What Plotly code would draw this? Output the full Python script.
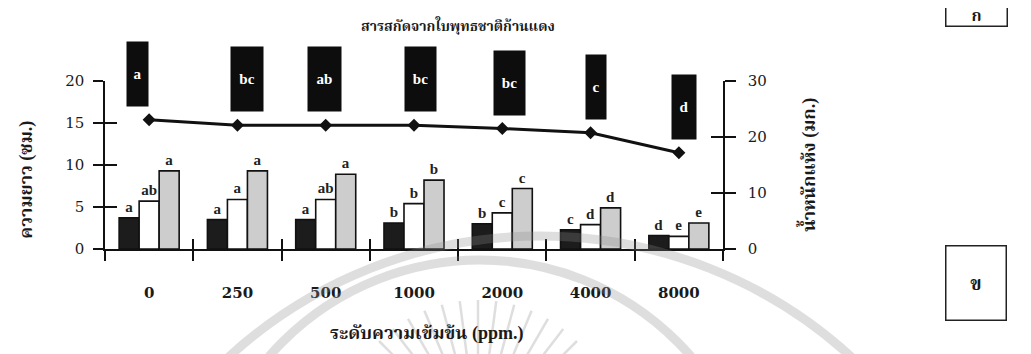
import math
import plotly.graph_objects as go

# ---------------- data ----------------
concentrations = ["0", "250", "500", "1000", "2000", "4000", "8000"]
len_black = [3.7, 3.5, 3.5, 3.1, 3.0, 2.3, 1.6]
len_white = [5.7, 5.9, 5.9, 5.4, 4.3, 2.9, 1.5]
len_gray = [9.3, 9.3, 8.9, 8.2, 7.2, 4.9, 3.1]
let_black = ["a", "a", "a", "b", "b", "c", "d"]
let_white = ["ab", "a", "ab", "b", "c", "d", "e"]
let_gray = ["a", "a", "a", "b", "c", "d", "e"]
dry_weight = [23.1, 22.1, 22.1, 22.1, 21.5, 20.75, 17.2]
dry_letters = ["a", "bc", "ab", "bc", "bc", "c", "d"]
left_ticks = [0, 5, 10, 15, 20]
right_ticks = [0, 10, 20, 30]

title_text = "สารสกัดจากใบพุทธชาติก้านแดง"
xtitle_text = "ระดับความเข้มข้น (ppm.)"
ytitle_left = "ความยาว (ซม.)"
ytitle_right = "น้ำหนักแห้ง (มก.)"

# ---------------- style ----------------
FONT = "Liberation Serif, Times New Roman, Noto Serif Thai, Noto Sans Thai, DejaVu Sans, serif"
NUMFONT = "DejaVu Serif, Liberation Serif, serif"
BOX_W = [19, 30, 31, 29, 29, 18, 22]
BOX_DX = [-12, 10, -1, 6, 7, 5, 5]
INK = "#1a1a1a"
# plot-area geometry (pixels) used only to place the faint background watermark
PX0, PW, PY0, PH = 105, 618, 249, 168

def px(x):
    return (x - PX0) / PW

def py(y):
    return (PY0 - y) / PH

fig = go.Figure()

def add_bar(vals, letters, color):
    fig.add_trace(go.Bar(
        x=concentrations, y=vals, text=[f"<b>{t}</b>" for t in letters],
        textposition="outside", cliponaxis=False,
        textfont=dict(family=FONT, size=15, color="#222"),
        marker=dict(color=color, line=dict(color="#111", width=1.6)),
        showlegend=False, hoverinfo="skip", yaxis="y", xaxis="x"))

add_bar(len_black, let_black, "#1c1c1c")
add_bar(len_white, let_white, "#ffffff")
add_bar(len_gray, let_gray, "#cdcdcd")

fig.add_trace(go.Scatter(
    x=concentrations, y=dry_weight, yaxis="y2", xaxis="x",
    mode="lines+markers", line=dict(color="#111", width=3),
    marker=dict(symbol="diamond", size=10, color="#111"),
    showlegend=False, hoverinfo="skip", cliponaxis=False))

# dummy traces for the crossing-tick overlay axes
fig.add_trace(go.Scatter(x=[-0.5, 6.5], y=[0, 0], xaxis="x2", yaxis="y3",
                         mode="none", showlegend=False, hoverinfo="skip"))
fig.add_trace(go.Scatter(x=[-0.5, 6.5], y=[0, 0], xaxis="x2", yaxis="y4",
                         mode="none", showlegend=False, hoverinfo="skip"))

ann = []
for i, (v, t) in enumerate(zip(dry_weight, dry_letters)):
    ann.append(dict(x=i, y=v, xref="x", yref="y2", text=f"<b>{t}</b>",
                    showarrow=False, bgcolor="#0d0d0d", width=BOX_W[i], height=62,
                    font=dict(family=FONT, size=15, color="white"),
                    xanchor="center", yanchor="middle", yshift=46, xshift=BOX_DX[i]))

# titles
ann.append(dict(text=f"<b>{title_text}</b>", x=0.571, y=1.333, xref="paper", yref="paper",
                showarrow=False, font=dict(family=FONT, size=14, color=INK),
                xanchor="center", yanchor="middle"))
ann.append(dict(text=f"<b>{xtitle_text}</b>", x=0.52, y=-0.5, xref="paper", yref="paper",
                showarrow=False, font=dict(family=FONT, size=18, color=INK),
                xanchor="center", yanchor="middle"))
ann.append(dict(text=f"<b>{ytitle_left}</b>", x=-0.127, y=0.41, xref="paper", yref="paper",
                showarrow=False, textangle=-90, font=dict(family=FONT, size=18, color=INK),
                xanchor="center", yanchor="middle"))
ann.append(dict(text=f"<b>{ytitle_right}</b>", x=1.137, y=0.5, xref="paper", yref="paper",
                showarrow=False, textangle=-90, font=dict(family=FONT, size=18, color=INK),
                xanchor="center", yanchor="middle"))
# panel labels
ann.append(dict(text="<b>ก</b>", x=px(977), y=py(27), xref="paper", yref="paper",
                showarrow=False, width=58, height=18, bordercolor="#222", borderwidth=1.5,
                bgcolor="white", font=dict(family=FONT, size=16, color=INK),
                xanchor="center", yanchor="bottom", valign="middle"))
ann.append(dict(text="<b>ข</b>", x=px(976), y=py(283), xref="paper", yref="paper",
                showarrow=False, width=57, height=71, bordercolor="#222", borderwidth=1.5,
                bgcolor="white", font=dict(family=FONT, size=19, color=INK),
                xanchor="center", yanchor="middle"))

# faint watermark (emblem arcs and rays) seen behind the scanned chart
WM = dict(color="#8c8c8c")
shapes = []
for cx, cy, r in [(540, 697, 461), (480, 539, 279)]:
    shapes.append(dict(type="circle", xref="paper", yref="paper",
                       x0=px(cx - r), x1=px(cx + r), y0=py(cy + r), y1=py(cy - r),
                       line=dict(color=WM["color"], width=9), opacity=0.28, layer="above"))
rcx, rcy = 478, 440
for k in range(13):
    a = math.radians(225 + k * 7.5)
    x0, y0 = rcx + 85 * math.cos(a), rcy + 85 * math.sin(a)
    x1, y1 = rcx + 140 * math.cos(a), rcy + 140 * math.sin(a)
    shapes.append(dict(type="line", xref="paper", yref="paper",
                       x0=px(x0), y0=py(y0), x1=px(x1), y1=py(y1),
                       line=dict(color=WM["color"], width=2.5), opacity=0.28, layer="below"))

tickfont = dict(family=NUMFONT, size=15, color=INK)
fig.update_layout(
    template="none",
    width=1023, height=346,
    margin=dict(l=97, r=308, t=73, b=105, autoexpand=False),
    paper_bgcolor="white", plot_bgcolor="rgba(0,0,0,0)",
    barmode="group", bargap=0.32, bargroupgap=0,
    annotations=ann, shapes=shapes,
    xaxis=dict(type="category", categoryarray=concentrations, tickson="boundaries",
               ticks="outside", ticklen=10, tickwidth=1.5, tickcolor="#111",
               showline=True, linecolor="#111", linewidth=1.5, automargin=False,
               showgrid=False, zeroline=False, tickfont=tickfont,
               tickprefix="<b>", ticksuffix="</b>", ticklabelstandoff=29,
               range=[-0.5, 6.5]),
    xaxis2=dict(overlaying="x", anchor="y", range=[-0.5, 6.5], automargin=False,
                tickvals=[-0.5, 0.5, 1.5, 2.5, 3.5, 4.5, 5.5, 6.5],
                ticks="inside", ticklen=10, tickwidth=1.5, tickcolor="#111",
                showticklabels=False, showline=False, showgrid=False, zeroline=False),
    yaxis=dict(range=[0, 20], tickvals=left_ticks, ticks="outside", ticklen=10,
               tickwidth=1.5, tickcolor="#111", showline=True, linecolor="#111",
               linewidth=1.5, showgrid=False, zeroline=False, tickfont=tickfont,
               tickprefix="<b>", ticksuffix="</b>", ticklabelstandoff=6, automargin=False),
    yaxis2=dict(range=[0, 30], tickvals=right_ticks, overlaying="y", side="right",
                anchor="x", ticks="outside", ticklen=11, tickwidth=1.5, tickcolor="#111",
                showline=True, linecolor="#111", linewidth=1.5, showgrid=False,
                zeroline=False, tickfont=tickfont, tickprefix="<b>", ticksuffix="</b>",
                ticklabelstandoff=9, automargin=False),
    yaxis3=dict(range=[0, 20], tickvals=left_ticks, overlaying="y", side="left",
                anchor="x2", ticks="inside", ticklen=12, tickwidth=1.5, tickcolor="#111",
                showticklabels=False, showline=False, showgrid=False, zeroline=False,
                automargin=False),
    yaxis4=dict(range=[0, 30], tickvals=right_ticks, overlaying="y", side="right",
                anchor="x2", ticks="inside", ticklen=12, tickwidth=1.5, tickcolor="#111",
                showticklabels=False, showline=False, showgrid=False, zeroline=False,
                automargin=False),
)

fig.write_html("out.html")
